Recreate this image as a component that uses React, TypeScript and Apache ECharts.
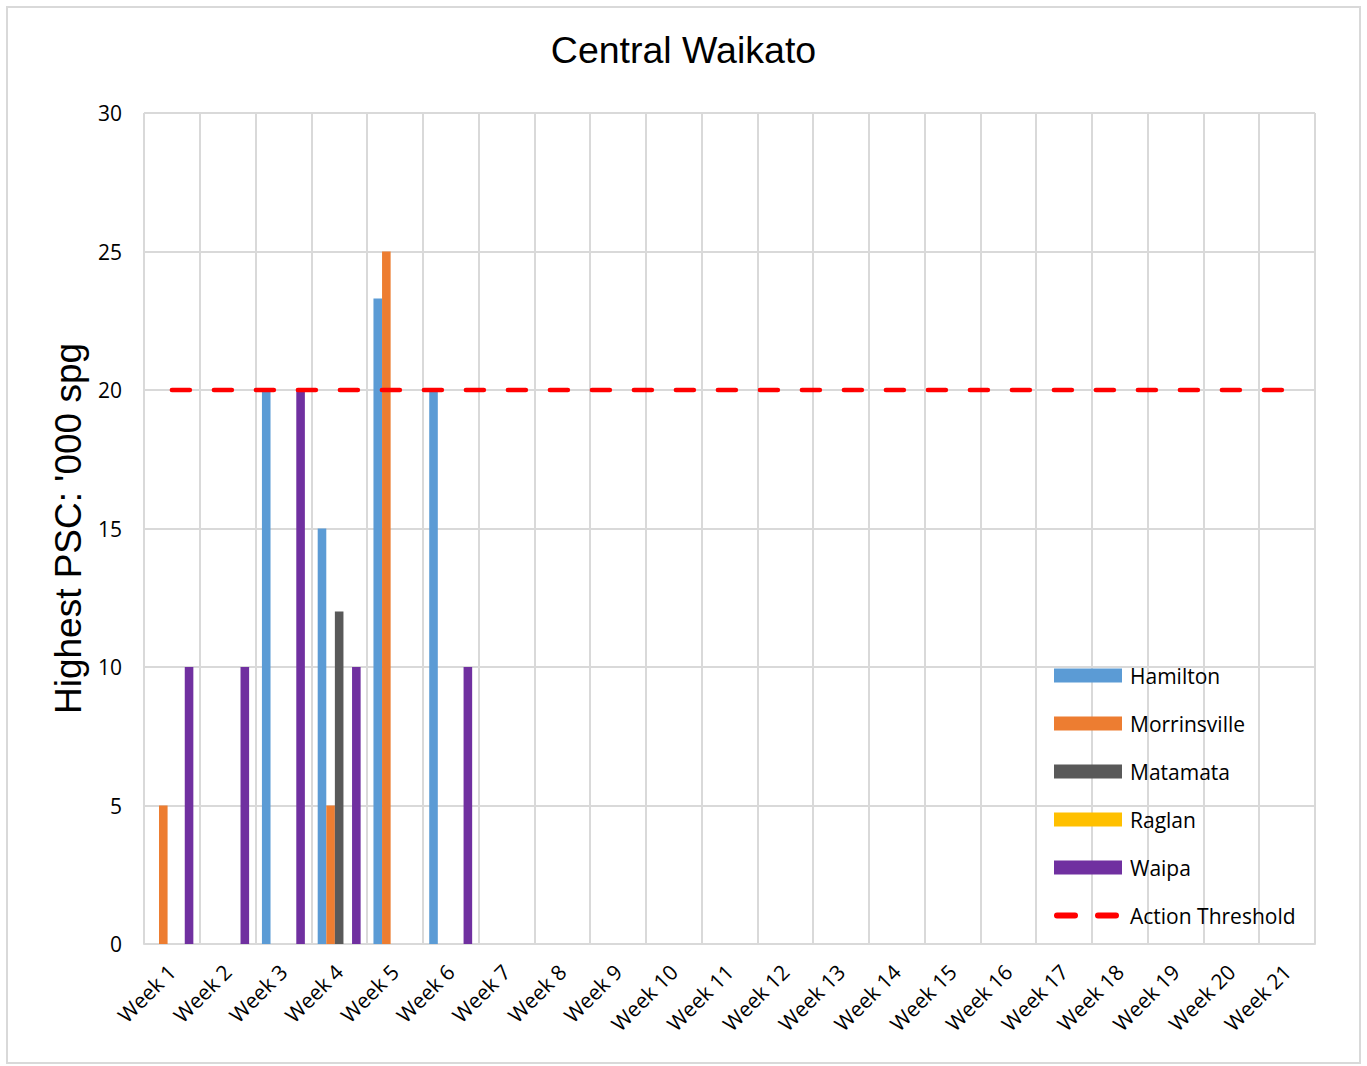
import React, { useEffect, useRef } from "react";
import * as echarts from "echarts";

const weeks = Array.from({ length: 21 }, (_, i) => `Week ${i + 1}`);
const hamilton = [null, null, 20, 15, 23.3, 20, null, null, null, null, null, null, null, null, null, null, null, null, null, null, null];
const morrinsville = [5, null, null, 5, 25, null, null, null, null, null, null, null, null, null, null, null, null, null, null, null, null];
const matamata = [null, null, null, 12, null, null, null, null, null, null, null, null, null, null, null, null, null, null, null, null, null];
const raglan = [null, null, null, null, null, null, null, null, null, null, null, null, null, null, null, null, null, null, null, null, null];
const waipa = [10, 10, 20, 10, null, 10, null, null, null, null, null, null, null, null, null, null, null, null, null, null, null];
const threshold = [20, 20, 20, 20, 20, 20, 20, 20, 20, 20, 20, 20, 20, 20, 20, 20, 20, 20, 20, 20, 20];

const dashIcon =
  "path://M0,0M68,14M3,4h18a3,3 0 0 1 0,6h-18a3,3 0 0 1 0,-6zM44,4h18a3,3 0 0 1 0,6h-18a3,3 0 0 1 0,-6z";

export default function App() {
  const ref = useRef<HTMLDivElement>(null);
  useEffect(() => {
    const chart = echarts.init(ref.current!, null, { renderer: "svg" });
    const barBase = { type: "bar", barGap: "0%", barCategoryGap: "23%" };
    chart.setOption({
      animation: false,
      backgroundColor: "#ffffff",
      title: {
        text: "Central Waikato",
        left: "center",
        top: 26,
        textStyle: { fontFamily: "Liberation Sans", fontSize: 37.5, fontWeight: "normal", color: "#000" },
      },
      graphic: [
        {
          type: "rect",
          shape: { x: 7, y: 7, width: 1353, height: 1056 },
          style: { fill: "none", stroke: "#d9d9d9", lineWidth: 2 },
          silent: true,
        },
      ],
      grid: { left: 144, right: 52, top: 113, bottom: 122 },
      legend: {
        orient: "vertical",
        left: 1049,
        top: 660,
        itemWidth: 68,
        itemHeight: 14,
        itemGap: 27,
        textStyle: { fontFamily: "Open Sans", fontSize: 21, color: "#000", padding: [0, 0, 0, 3] },
        data: [
          { name: "Hamilton", icon: "rect" },
          { name: "Morrinsville", icon: "rect" },
          { name: "Matamata", icon: "rect" },
          { name: "Raglan", icon: "rect" },
          { name: "Waipa", icon: "rect" },
          { name: "Action Threshold", icon: dashIcon, itemStyle: { color: "#FF0000" } },
        ],
      },
      xAxis: {
        type: "category",
        data: weeks,
        boundaryGap: true,
        axisLine: { show: true, lineStyle: { color: "#d9d9d9", width: 2 } },
        axisTick: { show: false },
        splitLine: { show: true, interval: 0, lineStyle: { color: "#d9d9d9", width: 2 } },
        axisLabel: {
          interval: 0,
          rotate: 45,
          margin: 24,
          fontFamily: "Open Sans",
          fontSize: 21,
          color: "#000",
        },
      },
      yAxis: {
        type: "value",
        min: 0,
        max: 30,
        interval: 5,
        name: "Highest PSC: '000 spg",
        nameLocation: "middle",
        nameGap: 57,
        nameTextStyle: { fontFamily: "Liberation Sans", fontSize: 37, color: "#000" },
        axisLine: { show: false },
        axisTick: { show: false },
        splitLine: { show: true, lineStyle: { color: "#d9d9d9", width: 2 } },
        axisLabel: { fontFamily: "Open Sans", fontSize: 21, color: "#000", margin: 22 },
      },
      series: [
        { ...barBase, name: "Hamilton", data: hamilton, itemStyle: { color: "#5B9BD5" } },
        { ...barBase, name: "Morrinsville", data: morrinsville, itemStyle: { color: "#ED7D31" } },
        { ...barBase, name: "Matamata", data: matamata, itemStyle: { color: "#595959" } },
        { ...barBase, name: "Raglan", data: raglan, itemStyle: { color: "#FFC000" } },
        { ...barBase, name: "Waipa", data: waipa, itemStyle: { color: "#7030A0" } },
        {
          type: "line",
          name: "Action Threshold",
          data: threshold,
          symbol: "none",
          z: 5,
          itemStyle: { color: "#FF0000" },
          lineStyle: { color: "#FF0000", width: 4.5, type: [18, 24], cap: "round" },
        },
      ],
    });
    return () => chart.dispose();
  }, []);
  return <div ref={ref} style={{ position: "absolute", left: 0, top: 0, width: 1367, height: 1066 }} />;
}
